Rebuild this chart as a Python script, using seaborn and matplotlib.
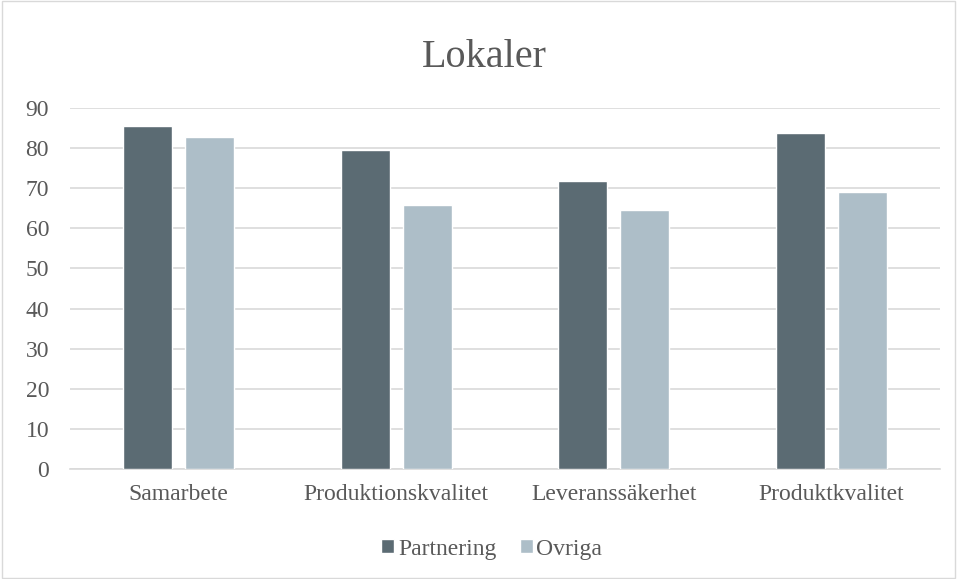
import pandas as pd
import matplotlib.pyplot as plt
import seaborn as sns
from matplotlib.patches import Rectangle

# Data
kategorier = ["Samarbete", "Produktionskvalitet", "Leveranssäkerhet", "Produktkvalitet"]
partnering = [85.4, 79.6, 71.8, 83.7]
ovriga = [82.8, 65.8, 64.6, 69.0]
serier = ["Partnering", "Ovriga"]
farger = ["#5B6B73", "#ADBEC8"]

df = pd.DataFrame({
    "Kategori": kategorier * 2,
    "Värde": partnering + ovriga,
    "Grupp": [serier[0]] * len(kategorier) + [serier[1]] * len(kategorier),
})

sns.set_theme(style="white")
FONT = "Liberation Serif"
TEXTFARG = "#595959"
plt.rcParams["font.family"] = FONT

fig = plt.figure(figsize=(9.57, 5.79), dpi=100)
ax = fig.add_axes([0.0731, 0.19, 0.9089, 0.6235])

sns.barplot(
    data=df, x="Kategori", y="Värde", hue="Grupp",
    palette=farger, width=0.57, gap=0.21, saturation=1,
    ax=ax, legend=True, zorder=3,
)

ax.set_ylim(0, 90)
ax.set_yticks(range(0, 91, 10))
ax.set_xlim(-0.5, 3.5)
ax.yaxis.grid(True, color="#D9D9D9", linewidth=1.2, zorder=0)
ax.set_axisbelow(True)
ax.set_xlabel("")
ax.set_ylabel("")
for s in ["left", "right", "top"]:
    ax.spines[s].set_visible(False)
ax.spines["bottom"].set_color("#D9D9D9")
ax.spines["bottom"].set_linewidth(1.2)
ax.tick_params(axis="both", length=0, colors=TEXTFARG)
ax.tick_params(axis="x", pad=11)
ax.tick_params(axis="y", pad=15)
for lbl in ax.get_xticklabels() + ax.get_yticklabels():
    lbl.set_family(FONT)
    lbl.set_fontsize(17)

ax.set_title("Lokaler", fontsize=29, color=TEXTFARG, pad=0, x=0.477, y=1.113, family=FONT)

handles, labels = ax.get_legend_handles_labels()
ax.legend(
    handles, labels, loc="center", bbox_to_anchor=(0.485, -0.222),
    ncol=2, frameon=False, handlelength=0.55, handleheight=0.55,
    handletextpad=0.15, columnspacing=1.0, labelcolor=TEXTFARG,
    prop={"family": FONT, "size": 17},
)

fig.patches.append(Rectangle((0.002, 0.002), 0.996, 0.996, transform=fig.transFigure,
                             fill=False, edgecolor="#D9D9D9", linewidth=1))

plt.savefig("out.png", dpi=100)
